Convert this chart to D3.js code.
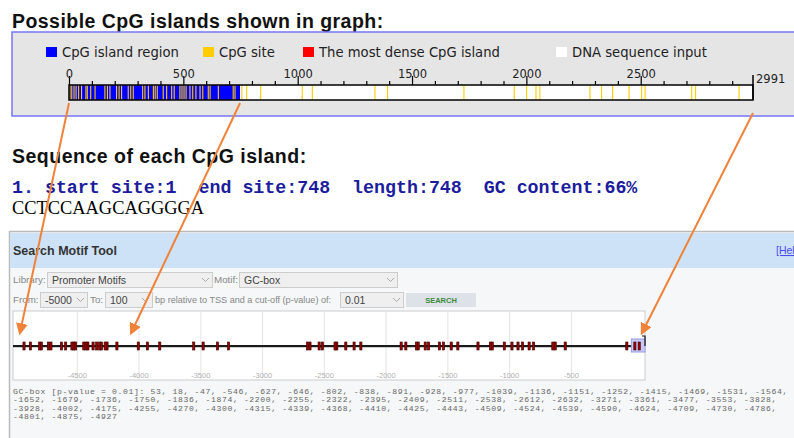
<!DOCTYPE html>
<html>
<head>
<meta charset="utf-8">
<script src="https://cdn.jsdelivr.net/npm/d3@7"></script>
<style>
  body { margin: 0; background: #fff; }
  svg { display: block; }
</style>
</head>
<body>
<div id="chart"></div>
<script>
// ---- data ----
var seqLength = 2991;
var island = { start: 1, end: 748, gc: 66 };
var islandSeq = "CCTCCAAGCAGGGGA";
var cpgSites = [4, 12, 22, 31, 42, 55, 74, 80, 95, 114, 157, 168, 179, 208, 219, 230,
  259, 270, 281, 322, 332, 347, 369, 377, 386, 412, 427, 449, 460, 485, 494, 503, 512,
  529, 541, 555, 573, 585, 609, 617, 653, 718, 726,
  756, 777, 838, 1020, 1064, 1338, 1393, 1727, 1947, 2001, 2042, 2059, 2278, 2329,
  2377, 2449, 2504, 2519, 2723, 2740, 2930];
var majorTicks = [0, 500, 1000, 1500, 2000, 2500];
var legendLabels = ["CpG island region", "CpG site", "The most dense CpG island", "DNA sequence input"];
var legendColors = ["#0000ff", "#ffcc00", "#ff0000", "#ffffff"];

var motifName = "GC-box";
var pValue = "0.01";
var motifSites = [53, 18, -47, -546, -627, -646, -802, -838, -891, -928, -977, -1039,
  -1136, -1151, -1252, -1415, -1469, -1531, -1564, -1652, -1679, -1736, -1750, -1836,
  -1874, -2200, -2255, -2322, -2395, -2409, -2511, -2538, -2612, -2632, -3271, -3361,
  -3477, -3553, -3828, -3928, -4002, -4175, -4255, -4270, -4300, -4315, -4339, -4368,
  -4410, -4425, -4443, -4509, -4524, -4539, -4590, -4624, -4709, -4730, -4786, -4801,
  -4875, -4927];
var motifTicks = [-4500, -4000, -3500, -3000, -2500, -2000, -1500, -1000, -500];
var motifRange = [-5000, 100];

// arrows: from sequence position (top bar) to motif position (bottom track)
var arrows = [{ from: 0, to: -4960, y0: 103 }, { from: 748, to: -4060, y0: 103 }, { from: 2991, to: 75, y0: 113 }];

// layout
var W = 794, H = 438;
var legendX = [46, 203, 303, 556];

var svg = d3.select("#chart").append("svg")
  .attr("width", W).attr("height", H)
  .style("font-family", "'Liberation Sans', Arial, sans-serif");

// ---- section 1: CpG island graph ----
svg.append("text").attr("x", 12).attr("y", 28)
  .attr("font-size", 19.5).attr("font-weight", "bold").attr("letter-spacing", 0.45).attr("fill", "#111")
  .text("Possible CpG islands shown in graph:");

svg.append("rect").attr("x", 12).attr("y", 32).attr("width", 800).attr("height", 84)
  .attr("fill", "#e5e5e5").attr("stroke", "#7575f5").attr("stroke-width", 1.5);

var leg = svg.append("g").selectAll("g").data(legendLabels).enter().append("g")
  .attr("transform", function(d, i) { return "translate(" + legendX[i] + ",47)"; });
leg.append("rect").attr("width", 11).attr("height", 10)
  .attr("fill", function(d, i) { return legendColors[i]; });
leg.append("text").attr("x", 16).attr("y", 9.8)
  .attr("font-family", "'DejaVu Sans', sans-serif").attr("font-size", 13.2).attr("fill", "#222")
  .text(function(d) { return d; });

var x = d3.scaleLinear().domain([0, seqLength]).range([69, 753]);
var barY = 85, barH = 15;

var g1 = svg.append("g");
g1.append("rect").attr("x", x(0)).attr("y", barY).attr("width", x(seqLength) - x(0)).attr("height", barH)
  .attr("fill", "#fff");
g1.append("rect").attr("x", x(island.start - 1)).attr("y", barY)
  .attr("width", x(island.end) - x(island.start - 1)).attr("height", barH).attr("fill", "#0000ff");
g1.selectAll("line.cpg").data(cpgSites).enter().append("line").attr("class", "cpg")
  .attr("x1", function(d) { return x(d); }).attr("x2", function(d) { return x(d); })
  .attr("y1", barY).attr("y2", barY + barH)
  .attr("stroke", "#ffcc00").attr("stroke-width", 1.1);
g1.append("rect").attr("x", x(0)).attr("y", barY).attr("width", x(seqLength) - x(0)).attr("height", barH)
  .attr("fill", "none").attr("stroke", "#000").attr("stroke-width", 1.5);

// minor ticks
var minor = d3.range(100, seqLength, 100).filter(function(d) { return d % 500 !== 0; });
var axMinor = d3.axisTop(x).tickValues(minor).tickSize(4).tickFormat("");
var axMajor = d3.axisTop(x).tickValues(majorTicks).tickSize(9).tickPadding(-2)
  .tickFormat(function(d) { return String(d); });
var gm = g1.append("g").attr("transform", "translate(0," + barY + ")").call(axMinor);
var gM = g1.append("g").attr("transform", "translate(0," + barY + ")").call(axMajor);
[gm, gM].forEach(function(g) {
  g.select(".domain").remove();
  g.selectAll(".tick line").attr("stroke", "#000").attr("stroke-width", 1.2);
});
gM.selectAll(".tick text").attr("font-family", "'DejaVu Sans', sans-serif")
  .attr("font-size", 11.5).attr("fill", "#222");
g1.append("line").attr("x1", x(seqLength)).attr("x2", x(seqLength)).attr("y1", 75).attr("y2", barY + barH)
  .attr("stroke", "#000").attr("stroke-width", 1.5);
g1.append("text").attr("x", x(seqLength) + 3).attr("y", 83)
  .attr("font-family", "'DejaVu Sans', sans-serif").attr("font-size", 11.5).attr("fill", "#222")
  .text(seqLength);

// ---- section 2: sequence of each island ----
svg.append("text").attr("x", 12).attr("y", 163)
  .attr("font-size", 19.5).attr("font-weight", "bold").attr("letter-spacing", 0.5).attr("fill", "#111")
  .text("Sequence of each CpG island:");
svg.append("text").attr("x", 12).attr("y", 193).attr("xml:space", "preserve")
  .attr("font-family", "'Liberation Mono', monospace").attr("font-size", 18.3).attr("font-weight", "bold")
  .attr("fill", "#1c1c9c")
  .text("1. start site:" + island.start + "  end site:" + island.end + "  length:" +
    (island.end - island.start + 1) + "  GC content:" + island.gc + "%");
svg.append("text").attr("x", 12).attr("y", 214)
  .attr("font-family", "'Liberation Serif', serif").attr("font-size", 18.4).attr("fill", "#000")
  .text(islandSeq);

// ---- section 3: search motif tool ----
var p = svg.append("g");
p.append("rect").attr("x", 9.5).attr("y", 231.5).attr("width", 800).attr("height", 220)
  .attr("fill", "#f5f7f9").attr("stroke", "#bbb").attr("stroke-width", 1.5);
p.append("rect").attr("x", 10).attr("y", 233).attr("width", 800).attr("height", 35).attr("fill", "#cde2f6");
p.append("text").attr("x", 13).attr("y", 255).attr("font-size", 12.5).attr("font-weight", "bold")
  .attr("fill", "#333").text("Search Motif Tool");
p.append("text").attr("x", 776).attr("y", 254).attr("font-size", 10.5).attr("fill", "#4a4aee")
  .attr("text-decoration", "underline").text("[Help]");

function label(tx, ty, s, fs) {
  p.append("text").attr("x", tx).attr("y", ty).attr("font-size", fs || 9.8).attr("fill", "#888").text(s);
}
function select(sx, sy, sw, s) {
  p.append("rect").attr("x", sx + 0.5).attr("y", sy + 0.5).attr("width", sw).attr("height", 15)
    .attr("fill", "#efefef").attr("stroke", "#ccc");
  p.append("text").attr("x", sx + 5).attr("y", sy + 11.5).attr("font-size", 10.5).attr("fill", "#444").text(s);
  p.append("path").attr("d", "M" + (sx + sw - 10) + "," + (sy + 6) + "l3.5,3.5l3.5,-3.5")
    .attr("fill", "none").attr("stroke", "#aaa").attr("stroke-width", 1);
}
label(13, 283, "Library:"); select(47, 272, 165, "Promoter Motifs");
label(214, 283, "Motif:"); select(239, 272, 158, motifName);
label(13, 303, "From:"); select(40, 292, 47, String(motifRange[0]));
label(90, 303, "To:"); select(105, 292, 47, String(motifRange[1]));
label(155, 303, "bp relative to TSS and a cut-off (p-value) of:", 9.1); select(340, 292, 63, pValue);
p.append("rect").attr("x", 406).attr("y", 293).attr("width", 70).attr("height", 14).attr("fill", "#dce2e7");
p.append("text").attr("x", 441).attr("y", 303).attr("text-anchor", "middle").attr("font-size", 7.5)
  .attr("font-weight", "bold").attr("fill", "#3a8a3a").text("SEARCH");

// motif track
var xm = d3.scaleLinear().domain(motifRange).range([15, 645]);
var plotTop = 311, plotBot = 380, trackY = 346;
p.append("rect").attr("x", 13).attr("y", plotTop).attr("width", 645 - 13).attr("height", plotBot - plotTop)
  .attr("fill", "#fff").attr("stroke", "#ccc").attr("stroke-width", 1);
var axm = d3.axisBottom(xm).tickValues(motifTicks).tickSize(-(plotBot - plotTop)).tickPadding(-7)
  .tickFormat(function(d) { return String(d); });
var gax = p.append("g").attr("transform", "translate(0," + plotBot + ")").call(axm);
gax.select(".domain").remove();
gax.selectAll(".tick line").attr("stroke", "#e3e3e3");
gax.selectAll(".tick text").attr("font-size", 7.5).attr("fill", "#b0b0b0");

p.append("line").attr("x1", 13).attr("x2", 645).attr("y1", trackY + 1).attr("y2", trackY + 1)
  .attr("stroke", "#999").attr("stroke-width", 1);
p.append("line").attr("x1", 13).attr("x2", 645).attr("y1", trackY).attr("y2", trackY)
  .attr("stroke", "#1a1a1a").attr("stroke-width", 1.8);
p.append("rect").attr("x", xm(-10)).attr("y", 339).attr("width", xm(motifRange[1]) - xm(-10)).attr("height", 13)
  .attr("fill", "#c9c9f6").attr("stroke", "#9a9ae6").attr("stroke-width", 1);
p.selectAll("rect.site").data(motifSites).enter().append("rect").attr("class", "site")
  .attr("x", function(d) { return xm(d) - 1.1; }).attr("y", trackY - 4)
  .attr("width", 2.2).attr("height", 8)
  .attr("fill", "#990000").attr("stroke", "#3a0000").attr("stroke-width", 0.6);
p.append("path").attr("d", "M" + xm(motifRange[1]) + "," + trackY + "v-10h-3")
  .attr("fill", "none").attr("stroke", "#111").attr("stroke-width", 1.2);

// result text, wrapped greedily by character count
var items = motifSites.map(function(d) { return d + ","; });
items[items.length - 1] = String(motifSites[motifSites.length - 1]);
var lines = [], cur = motifName + " [p-value = " + pValue + "]:";
items.forEach(function(s) {
  if ((cur + " " + s).length > 142) { lines.push(cur); cur = s; } else { cur = cur + " " + s; }
});
lines.push(cur);
p.selectAll("text.res").data(lines).enter().append("text").attr("class", "res")
  .attr("x", 13).attr("y", function(d, i) { return 394 + i * 8.3; })
  .attr("font-family", "'Liberation Mono', monospace").attr("font-size", 8.1).attr("letter-spacing", 0.64)
  .attr("fill", "#666").text(function(d) { return d; });

// ---- orange annotation arrows ----
var defs = svg.append("defs");
defs.append("marker").attr("id", "ah").attr("viewBox", "0 0 10 10").attr("refX", 8).attr("refY", 5)
  .attr("markerWidth", 6).attr("markerHeight", 6).attr("orient", "auto")
  .append("path").attr("d", "M0,0L10,5L0,10z").attr("fill", "#f0823a");
svg.append("g").selectAll("line").data(arrows).enter().append("line")
  .attr("x1", function(d) { return x(d.from); }).attr("y1", function(d) { return d.y0; })
  .attr("x2", function(d) { return xm(d.to); }).attr("y2", function(d) { return trackY - 13; })
  .attr("stroke", "#f0823a").attr("stroke-width", 2).attr("marker-end", "url(#ah)");
</script>
</body>
</html>
